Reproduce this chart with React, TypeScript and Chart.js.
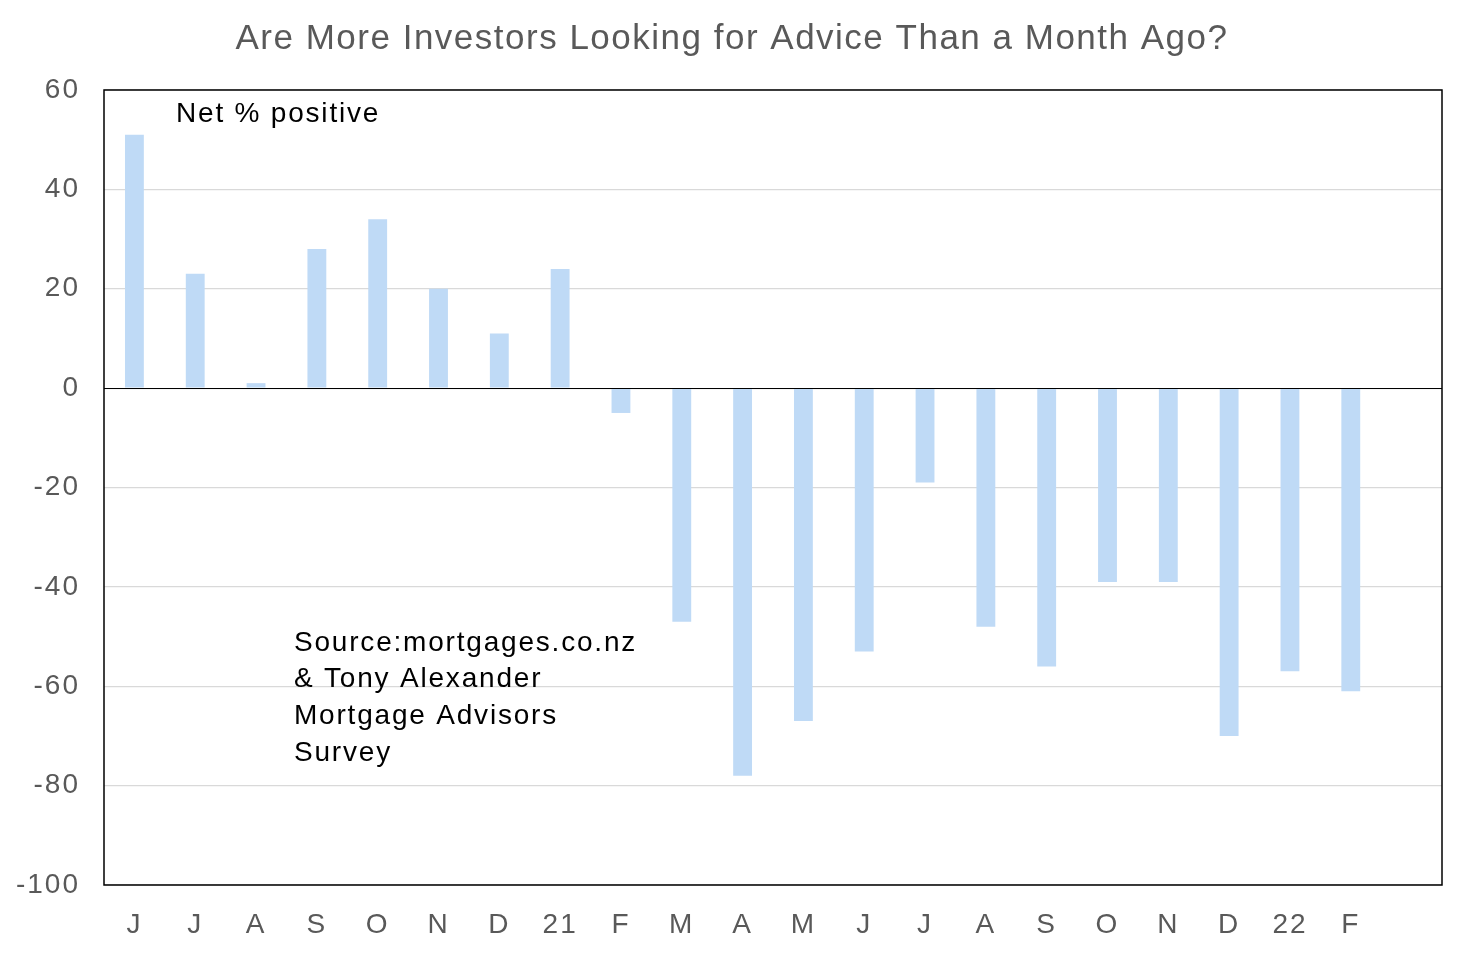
import { useEffect, useRef } from 'react';
import { Chart, registerables } from 'chart.js';

Chart.register(...registerables);

const months = ['J', 'J', 'A', 'S', 'O', 'N', 'D', '21', 'F', 'M', 'A', 'M', 'J', 'J', 'A', 'S', 'O', 'N', 'D', '22', 'F', ''];
const netPositive = [51, 23, 1, 28, 34, 20, 11, 24, -5, -47, -78, -67, -53, -19, -48, -56, -39, -39, -70, -57, -61, null];
const yTicks = [60, 40, 20, 0, -20, -40, -60, -80, -100];
const title = 'Are More Investors Looking for Advice Than a Month Ago?';
const sourceLines = ['Source:mortgages.co.nz', '& Tony Alexander', 'Mortgage Advisors', 'Survey'];

const FONT = '"Liberation Sans", Arial, sans-serif';

export default function App() {
  const chartRef = useRef<HTMLCanvasElement>(null);
  const chartInstance = useRef<Chart | null>(null);

  useEffect(() => {
    if (!chartRef.current) return;
    if (chartInstance.current) chartInstance.current.destroy();
    const ctx = chartRef.current.getContext('2d');
    if (!ctx) return;

    // title, text notes, frame and zero line
    const extras = {
      id: 'extras',
      beforeDraw(chart: any) {
        // wider letter spacing like the original's text rendering (tick labels)
        chart.ctx.letterSpacing = '2px';
      },
      afterDraw(chart: any) {
        const c = chart.ctx;
        const area = chart.chartArea;
        const y = chart.scales.y;
        c.save();
        c.strokeStyle = '#000';
        c.lineWidth = 1.5;
        c.strokeRect(area.left, area.top, area.right - area.left, area.bottom - area.top);
        const zy = Math.round(y.getPixelForValue(0)) + 0.5;
        c.lineWidth = 1.2;
        c.beginPath();
        c.moveTo(area.left, zy);
        c.lineTo(area.right, zy);
        c.stroke();

        c.fillStyle = '#595959';
        c.font = `35px ${FONT}`;
        c.letterSpacing = '1.5px';
        c.textAlign = 'center';
        c.textBaseline = 'middle';
        c.fillText(title, chart.width / 2, 39);

        c.fillStyle = '#000';
        c.font = `28px ${FONT}`;
        c.letterSpacing = '1.8px';
        c.textAlign = 'left';
        c.fillText('Net % positive', 176, 114);
        sourceLines.forEach((line, i) => c.fillText(line, 294, 643 + i * 36.7));
        c.restore();
      },
    };

    chartInstance.current = new Chart(ctx, {
      type: 'bar',
      data: {
        labels: months,
        datasets: [{
          data: netPositive,
          backgroundColor: '#BFDAF6',
          borderWidth: 0,
          categoryPercentage: 1,
          barPercentage: 0.31,
        }],
      },
      options: {
        responsive: false,
        animation: false,
        layout: { padding: { top: 90, right: 22, bottom: 0, left: 0 } },
        plugins: {
          legend: { display: false },
          tooltip: { enabled: false },
          title: { display: false },
        },
        scales: {
          x: {
            grid: { display: false, drawTicks: false },
            border: { display: false },
            ticks: {
              color: '#595959',
              font: { family: FONT, size: 28 },
              padding: 23,
              maxRotation: 0,
              autoSkip: false,
            },
            afterFit(scale: any) { scale.height = 69; },
          },
          y: {
            min: -100,
            max: 60,
            afterBuildTicks(scale: any) { scale.ticks = yTicks.map(v => ({ value: v })); },
            grid: { color: '#D9D9D9', lineWidth: 1.2, drawTicks: false },
            border: { display: false },
            ticks: {
              color: '#595959',
              font: { family: FONT, size: 28 },
              padding: 24,
            },
            afterFit(scale: any) { scale.width = 104; },
          },
        },
      },
      plugins: [extras],
    });

    return () => {
      if (chartInstance.current) chartInstance.current.destroy();
    };
  }, []);

  return (
    <div style={{ position: 'fixed', left: 0, top: 0, width: 1464, height: 954, background: '#fff' }}>
      <canvas ref={chartRef} width={1464} height={954} />
    </div>
  );
}
